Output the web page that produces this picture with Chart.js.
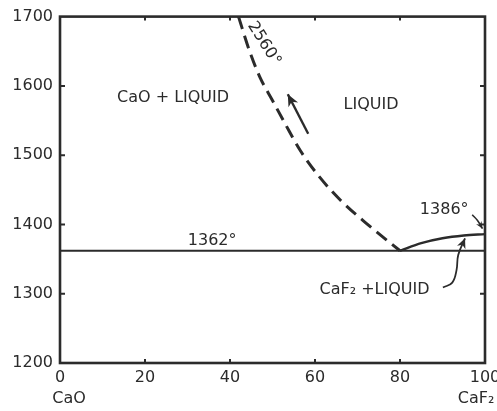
<!DOCTYPE html>
<html>
<head>
<meta charset="utf-8">
<script src="https://cdn.jsdelivr.net/npm/chart.js@4/dist/chart.umd.min.js"></script>
<style>
  html, body { margin: 0; padding: 0; background: #fff; }
  #wrap { width: 497px; height: 411px; }
</style>
</head>
<body>
<div id="wrap"><canvas id="phase"></canvas></div>
<script>
// composition, wt% CaF2
var eutecticX = [0, 100];
var eutecticY = [1362, 1362];

// CaO liquidus (dashed, extrapolated towards 2560°)
var caoLiqX = [42, 44.5, 47, 50, 53, 56.5, 61, 66, 72, 80];
var caoLiqY = [1700, 1652, 1613, 1579, 1545, 1507, 1469, 1435, 1402, 1362];

// CaF2 liquidus
var caf2LiqX = [80, 85, 90, 95, 100];
var caf2LiqY = [1362, 1373, 1380, 1384, 1386];

// arrow beside dashed curve
var upArrowX = [58.4, 53.6];
var upArrowY = [1531, 1588];

// pointer from "CaF2 + LIQUID" label
var ptrX = [90.1, 92.3, 93.3, 93.7, 95.3];
var ptrY = [1309, 1316, 1334, 1356, 1380];

// hook from "1386°" label
var hookX = [97.0, 98.2, 99.4];
var hookY = [1414, 1406, 1394];

var xTicks = [0, 20, 40, 60, 80, 100];
var yTicks = [1200, 1300, 1400, 1500, 1600, 1700];

var notes = [
    { text: 'CaO + LIQUID', x: 26.6, y: 1583 },
    { text: 'LIQUID', x: 73.2, y: 1572 },
    { text: '1362°', x: 35.8, y: 1377 },
    { text: '1386°', x: 90.4, y: 1421 },
    { text: 'CaF\u2082 +LIQUID', x: 74.0, y: 1305 },
    { text: '2560°', x: 48.0, y: 1661, rot: 58 }
];

var ink = '#2b2b2b';
var font = '"DejaVu Sans", sans-serif';

function pts(xs, ys)
{
    var out = [];
    for (var i = 0; i < xs.length; i++) {
        out.push({ x: xs[i], y: ys[i] });
    }
    return out;
}

function line(xs, ys, width, extra)
{
    var ds = {
        data: pts(xs, ys),
        showLine: true,
        borderColor: ink,
        borderWidth: width,
        pointRadius: 0,
        fill: false
    };
    for (var k in extra) ds[k] = extra[k];
    return ds;
}

var diagram = {
    id: 'diagram',
    afterDatasetsDraw: function(chart) {
        var ctx = chart.ctx;
        var a = chart.chartArea;
        var sx = chart.scales.x, sy = chart.scales.y;
        ctx.save();

        // frame
        ctx.strokeStyle = ink;
        ctx.lineWidth = 2.6;
        ctx.strokeRect(a.left, a.top, a.right - a.left, a.bottom - a.top);

        // inward ticks on all four sides
        ctx.lineWidth = 2;
        ctx.beginPath();
        for (var i = 1; i < xTicks.length - 1; i++) {
            var px = sx.getPixelForValue(xTicks[i]);
            ctx.moveTo(px, a.bottom); ctx.lineTo(px, a.bottom - 4);
            ctx.moveTo(px, a.top); ctx.lineTo(px, a.top + 4);
        }
        for (var j = 1; j < yTicks.length - 1; j++) {
            var py = sy.getPixelForValue(yTicks[j]);
            ctx.moveTo(a.left, py); ctx.lineTo(a.left + 5, py);
            ctx.moveTo(a.right, py); ctx.lineTo(a.right - 5, py);
        }
        ctx.stroke();

        // arrow heads
        chart.data.datasets.forEach(function(ds, n) {
            if (!ds.arrow) return;
            var el = chart.getDatasetMeta(n).data;
            var p1 = el[el.length - 2], p2 = el[el.length - 1];
            var ang = Math.atan2(p2.y - p1.y, p2.x - p1.x);
            var len = ds.arrow, w = ds.arrow * 0.45;
            ctx.fillStyle = ink;
            ctx.beginPath();
            ctx.moveTo(p2.x, p2.y);
            ctx.lineTo(p2.x - len * Math.cos(ang) + w * Math.sin(ang), p2.y - len * Math.sin(ang) - w * Math.cos(ang));
            ctx.lineTo(p2.x - len * 0.7 * Math.cos(ang), p2.y - len * 0.7 * Math.sin(ang));
            ctx.lineTo(p2.x - len * Math.cos(ang) - w * Math.sin(ang), p2.y - len * Math.sin(ang) + w * Math.cos(ang));
            ctx.closePath();
            ctx.fill();
        });

        // field labels
        ctx.fillStyle = ink;
        ctx.textAlign = 'center';
        ctx.textBaseline = 'middle';
        ctx.font = '16px ' + font;
        notes.forEach(function(t) {
            ctx.save();
            ctx.translate(sx.getPixelForValue(t.x), sy.getPixelForValue(t.y));
            if (t.rot) ctx.rotate(t.rot * Math.PI / 180);
            ctx.fillText(t.text, 0, 0);
            ctx.restore();
        });

        // component names under the end ticks
        ctx.fillText('CaO', sx.getPixelForValue(0) + 9, a.bottom + 36);
        ctx.fillText('CaF\u2082', sx.getPixelForValue(100) - 9, a.bottom + 36);
        ctx.restore();
    }
};

new Chart(document.getElementById('phase'), {
    type: 'scatter',
    data: {
        datasets: [
            line(eutecticX, eutecticY, 2.2, {}),
            line(caoLiqX, caoLiqY, 3, { borderDash: [13, 7], cubicInterpolationMode: 'monotone' }),
            line(caf2LiqX, caf2LiqY, 2.4, { cubicInterpolationMode: 'monotone' }),
            line(upArrowX, upArrowY, 2.4, { arrow: 12 }),
            line(ptrX, ptrY, 1.8, { tension: 0.4, arrow: 10 }),
            line(hookX, hookY, 1.6, { tension: 0.4, arrow: 7 })
        ]
    },
    options: {
        responsive: true,
        maintainAspectRatio: false,
        animation: false,
        layout: { padding: { top: 16, right: 12, left: 0, bottom: 0 } },
        plugins: { legend: { display: false }, tooltip: { enabled: false } },
        scales: {
            x: {
                type: 'linear',
                min: 0, max: 100,
                afterBuildTicks: function(s) { s.ticks = xTicks.map(function(v) { return { value: v }; }); },
                afterFit: function(s) { s.height = 48; s.paddingRight = 0; s.paddingLeft = 0; },
                grid: { display: false, drawTicks: false },
                border: { display: false },
                ticks: {
                    color: ink, font: { family: font, size: 16 }, padding: 5, maxRotation: 0, autoSkip: false,
                    callback: function(v) { return String(v); }
                }
            },
            y: {
                type: 'linear',
                min: 1200, max: 1700,
                afterBuildTicks: function(s) { s.ticks = yTicks.map(function(v) { return { value: v }; }); },
                afterFit: function(s) { s.width = 60; },
                grid: { display: false, drawTicks: false },
                border: { display: false },
                ticks: {
                    color: ink, font: { family: font, size: 16 }, padding: 7, autoSkip: false,
                    callback: function(v) { return String(v); }
                }
            }
        }
    },
    plugins: [diagram]
});
</script>
</body>
</html>
